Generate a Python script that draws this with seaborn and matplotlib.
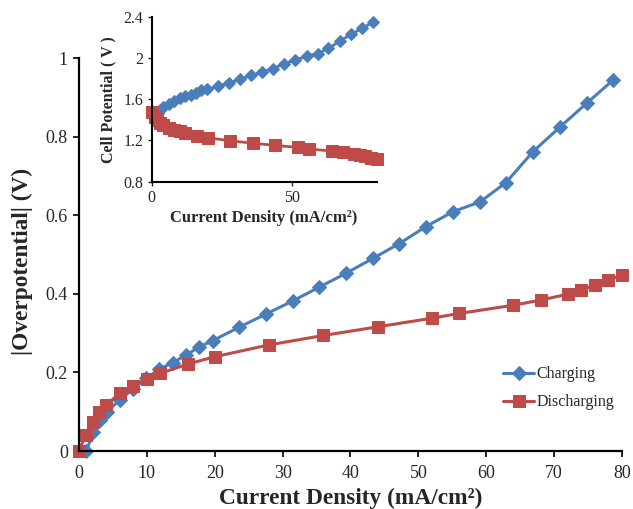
import numpy as np
import pandas as pd
import matplotlib
matplotlib.use("Agg")
import matplotlib.pyplot as plt
import seaborn as sns

# ---- data ----
charge_x = [1.1, 2.1, 3.1, 4.1, 6.0, 7.9, 9.9, 11.8, 13.8, 15.8, 17.7, 19.7, 23.6, 27.6,
            31.5, 35.4, 39.3, 43.3, 47.2, 51.1, 55.1, 59.1, 62.9, 66.9, 70.9, 74.8, 78.7]
charge_eta = [0.0, 0.049, 0.079, 0.100, 0.130, 0.157, 0.185, 0.208, 0.225, 0.244, 0.265, 0.281,
              0.315, 0.349, 0.382, 0.417, 0.452, 0.490, 0.528, 0.571, 0.609, 0.634, 0.683,
              0.762, 0.825, 0.885, 0.944]
charge_cell = [1.43, 1.47, 1.50, 1.52, 1.555, 1.585, 1.61, 1.63, 1.645, 1.665, 1.685, 1.695,
               1.725, 1.76, 1.793, 1.83, 1.864, 1.897, 1.945, 1.978, 2.017, 2.043, 2.092,
               2.163, 2.228, 2.287, 2.345]

dis_x = [0, 1, 2, 3, 4, 6, 8, 10, 12, 16, 20, 28, 36, 44, 52, 56, 64, 68, 72, 74, 76, 78, 80]
dis_eta = [0.0, 0.042, 0.075, 0.100, 0.117, 0.147, 0.166, 0.183, 0.198, 0.221, 0.240, 0.270,
           0.294, 0.316, 0.338, 0.350, 0.371, 0.384, 0.399, 0.410, 0.422, 0.435, 0.448]
dis_cell = [1.472, 1.43, 1.40, 1.372, 1.352, 1.322, 1.302, 1.287, 1.272, 1.245, 1.227, 1.196,
            1.174, 1.152, 1.133, 1.118, 1.097, 1.085, 1.07, 1.058, 1.046, 1.034, 1.022]

main_xticks = [0, 10, 20, 30, 40, 50, 60, 70, 80]
main_yticks = [0, 0.2, 0.4, 0.6, 0.8, 1.0]
main_ylabels = ["0", "0.2", "0.4", "0.6", "0.8", "1"]
inset_xticks = [0, 50]
inset_yticks = [0.8, 1.2, 1.6, 2.0, 2.4]
inset_ylabels = ["0.8", "1.2", "1.6", "2", "2.4"]

BLUE = "#4A7EBB"
RED = "#BE4B48"

sns.set_style("ticks")
plt.rcParams["font.family"] = ["Liberation Serif", "DejaVu Serif"]

df_c = pd.DataFrame({"x": charge_x, "eta": charge_eta, "cell": charge_cell})
df_d = pd.DataFrame({"x": dis_x, "eta": dis_eta, "cell": dis_cell})

fig = plt.figure(figsize=(6.33, 5.09), dpi=100)
ax = fig.add_axes([0.1248, 0.1139, 0.8578, 0.7721])

sns.lineplot(data=df_c, x="x", y="eta", ax=ax, color=BLUE, marker="D", markersize=7,
             markeredgecolor=BLUE, linewidth=2.2, label="Charging", sort=False)
sns.lineplot(data=df_d, x="x", y="eta", ax=ax, color=RED, marker="s", markersize=9,
             markeredgecolor=RED, linewidth=2.2, label="Discharging", sort=False)

ax.set_xlim(0, 80)
ax.set_ylim(0, 1)
ax.set_xticks(main_xticks)
ax.set_yticks(main_yticks)
ax.set_yticklabels(main_ylabels)
ax.tick_params(axis="both", labelsize=13, width=1.2, length=4, color="black", direction="out")
ax.tick_params(axis="x", pad=6)
ax.tick_params(axis="y", pad=4)
for s in ["top", "right"]:
    ax.spines[s].set_visible(False)
for s in ["left", "bottom"]:
    ax.spines[s].set_linewidth(1.6)
    ax.spines[s].set_color("black")
ax.set_xlabel("Current Density (mA/cm²)", fontsize=16.8, fontweight="bold", labelpad=4)
ax.set_ylabel("|Overpotential| (V)", fontsize=16.8, fontweight="bold", labelpad=9)
ax.yaxis.label.set_y(0.482)
for line in ax.lines:
    line.set_clip_on(False)

leg = ax.legend(loc="upper left", bbox_to_anchor=(0.77, 0.232), frameon=False, fontsize=11.5,
                handlelength=1.9, handletextpad=0.15, labelspacing=0.75, borderaxespad=0)

# ---- inset ----
ins = fig.add_axes([0.2397, 0.643, 0.3551, 0.3242])
sns.lineplot(data=df_c, x="x", y="cell", ax=ins, color=BLUE, marker="D", markersize=6,
             markeredgecolor=BLUE, linewidth=2.0, sort=False, legend=False)
sns.lineplot(data=df_d, x="x", y="cell", ax=ins, color=RED, marker="s", markersize=8,
             markeredgecolor=RED, linewidth=2.0, sort=False, legend=False)
ins.set_xlim(0, 80)
ins.set_ylim(0.8, 2.4)
ins.set_xticks(inset_xticks)
ins.set_yticks(inset_yticks)
ins.set_yticklabels(inset_ylabels)
ins.tick_params(axis="both", labelsize=11.5, width=1.0, length=3, direction="out", pad=3)
for s in ["top", "right"]:
    ins.spines[s].set_visible(False)
for s in ["left", "bottom"]:
    ins.spines[s].set_linewidth(1.5)
    ins.spines[s].set_color("black")
ins.set_xlabel("Current Density (mA/cm²)", fontsize=12, fontweight="bold", labelpad=3)
ins.set_ylabel("Cell Potential ( V )", fontsize=11.5, fontweight="bold", labelpad=5)
for line in ins.lines:
    line.set_clip_on(False)
ins.patch.set_alpha(0)

fig.savefig("out.png", dpi=100)
